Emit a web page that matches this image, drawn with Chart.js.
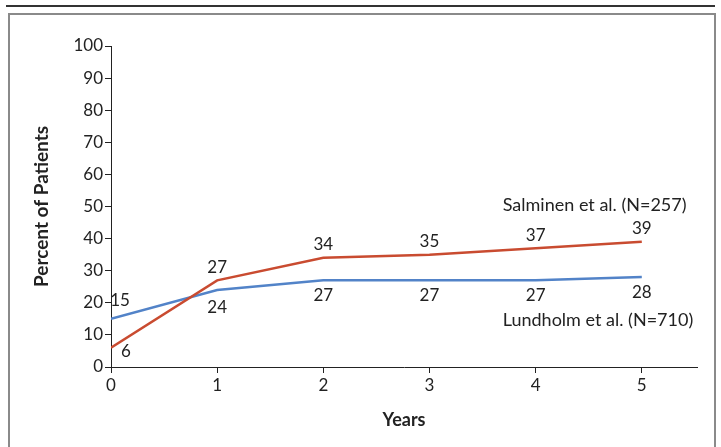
<!DOCTYPE html>
<html>
<head>
<meta charset="utf-8">
<script src="https://cdn.jsdelivr.net/npm/chart.js@4.4.1/dist/chart.umd.min.js"></script>
<style>
  html, body { margin: 0; padding: 0; background: #fff; }
  #wrap { position: relative; width: 721px; height: 447px; overflow: hidden; }
  #topline { position: absolute; left: 6px; top: 5px; width: 709px; height: 2px; background: #333; }
  #frame { position: absolute; left: 8px; top: 13px; width: 704px; height: 460px; border: 2px solid #8a8a8a; border-bottom: none; }
  canvas { position: absolute; left: 0; top: 0; }
</style>
</head>
<body>
<div id="wrap">
  <div id="topline"></div>
  <div id="frame"></div>
  <canvas id="myChart" width="721" height="447"></canvas>
</div>
<script>
const years = [0, 1, 2, 3, 4, 5];
const salminen = [6, 27, 34, 35, 37, 39];
const lundholm = [15, 24, 27, 27, 27, 28];
const yTicks = [0, 10, 20, 30, 40, 50, 60, 70, 80, 90, 100];
const salminenName = "Salminen et al. (N=257)";
const lundholmName = "Lundholm et al. (N=710)";

const FONT = "Lato, 'Open Sans', sans-serif";

// where each value label sits relative to its point, in px
const labelOffsets = [
    [[15, 4], [0, -13], [0, -13], [0, -13], [0, -13], [0, -13]],
    [[9, -18], [0, 18], [0, 15], [0, 15], [0, 15], [0, 15]]
];
const seriesValues = [salminen, lundholm];

const valueLabels = {
    id: "valueLabels",
    afterDatasetsDraw(chart) {
        const ctx = chart.ctx;
        const xs = chart.scales.x, ys = chart.scales.y;
        ctx.save();
        ctx.font = "17px " + FONT;
        ctx.fillStyle = "#222";
        ctx.textAlign = "center";
        ctx.textBaseline = "middle";
        seriesValues.forEach((vals, i) => {
            vals.forEach((v, j) => {
                const off = labelOffsets[i][j];
                ctx.fillText(String(v), xs.getPixelForValue(years[j]) + off[0], ys.getPixelForValue(v) + off[1]);
            });
        });
        ctx.font = "18px " + FONT;
        ctx.textAlign = "left";
        ctx.fillText(salminenName, xs.getPixelForValue(3.69), ys.getPixelForValue(50.5));
        ctx.fillText(lundholmName, xs.getPixelForValue(3.69), ys.getPixelForValue(14.6));
        ctx.restore();
    }
};

new Chart(document.getElementById("myChart"), {
    type: "line",
    data: {
        labels: years,
        datasets: [
            {
                label: salminenName,
                data: salminen.map((v, i) => ({x: years[i], y: v})),
                borderColor: "#c94b30",
                borderWidth: 2.5,
                pointRadius: 0,
                tension: 0,
                fill: false
            },
            {
                label: lundholmName,
                data: lundholm.map((v, i) => ({x: years[i], y: v})),
                borderColor: "#5283c8",
                borderWidth: 2.5,
                pointRadius: 0,
                tension: 0,
                fill: false
            }
        ]
    },
    options: {
        responsive: false,
        animation: false,
        layout: { padding: { left: 0, top: 46, right: 24, bottom: 0 } },
        plugins: { legend: { display: false }, tooltip: { enabled: false } },
        scales: {
            x: {
                type: "linear",
                min: 0,
                max: 5.52,
                afterBuildTicks: (s) => { s.ticks = years.map(v => ({value: v})); },
                afterFit: (s) => { s.height = 80; },
                grid: { display: true, drawOnChartArea: false, drawTicks: true, tickLength: 6, color: "#222" },
                border: { display: true, color: "#222", width: 1 },
                ticks: { font: { size: 17, family: FONT }, color: "#222", padding: 2, maxRotation: 0 },
                title: { display: true, text: "Years", font: { size: 18, weight: "bold", family: FONT }, color: "#222", padding: { top: 0, bottom: 16 } }
            },
            y: {
                min: 0,
                max: 100,
                afterBuildTicks: (s) => { s.ticks = yTicks.map(v => ({value: v})); },
                afterFit: (s) => { s.width = 111; },
                grid: { display: true, drawOnChartArea: false, drawTicks: true, tickLength: 6, color: "#222" },
                border: { display: true, color: "#222", width: 1 },
                ticks: { font: { size: 17, family: FONT }, color: "#222", padding: 2 },
                title: { display: true, text: "Percent of Patients", font: { size: 19, weight: "bold", family: FONT }, color: "#222", padding: { top: 30, bottom: 0 } }
            }
        }
    },
    plugins: [valueLabels]
});
</script>
</body>
</html>
